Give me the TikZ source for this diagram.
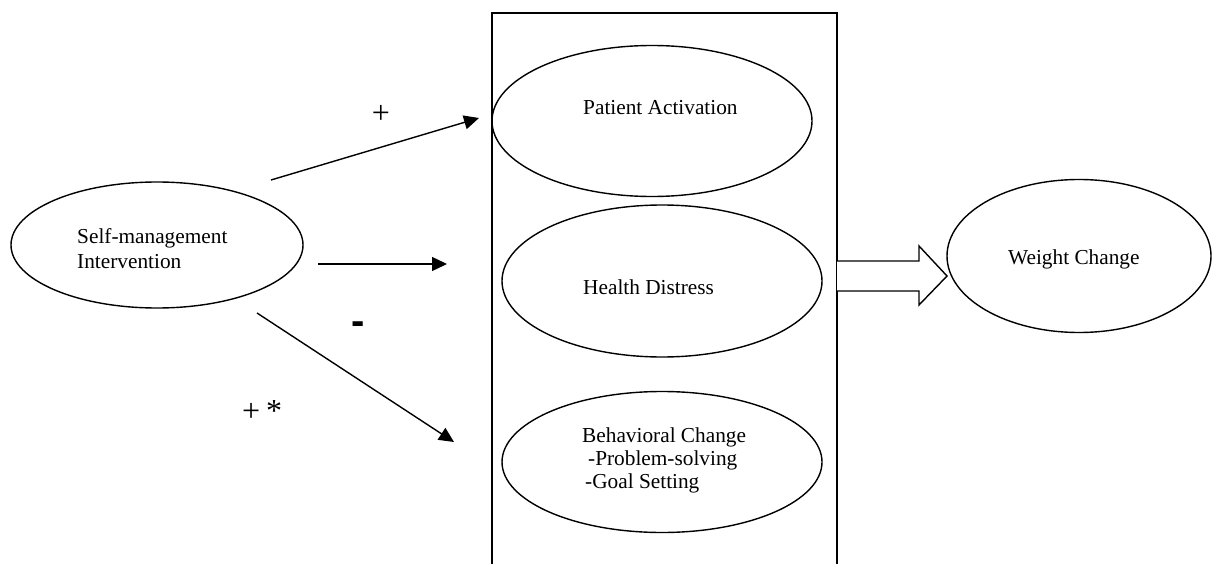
\documentclass[tikz,border=0pt]{standalone}
\usepackage{fontspec}
\setmainfont{Liberation Serif}
\newfontfamily\dashfont{Liberation Sans}
\usetikzlibrary{shapes.geometric,arrows.meta}
\begin{document}
\begin{tikzpicture}[x=1pt,y=-1pt,
  construct/.style={draw,ellipse,line width=1.4pt,inner sep=0pt},
  lbl/.style={anchor=base west,inner sep=0pt,font=\fontsize{21.3}{25}\selectfont},
  sign/.style={anchor=base,inner sep=0pt,font=\fontsize{32}{34}\selectfont},
  path/.style={line width=1.4pt,-{Triangle[length=15pt,width=14pt]}},
  frame/.style={line width=1.8pt}]
\useasboundingbox (0,0) rectangle (1214,564);

% mediator frame (runs off the bottom edge)
\draw[frame] (492,570) -- (492,13) -- (837,13) -- (837,570);

% constructs
\node[construct,minimum width=292pt,minimum height=126pt] (sm) at (157,245) {};
\node[construct,minimum width=320pt,minimum height=151pt] (pa) at (652,121) {};
\node[construct,minimum width=320pt,minimum height=152pt] (hd) at (662,281) {};
\node[construct,minimum width=320pt,minimum height=141pt] (bc) at (662,462) {};
\node[construct,minimum width=264pt,minimum height=153pt] (wc) at (1079,256) {};

% construct labels
\node[lbl] (smA) at (77,243) {Self-management};
\node[lbl] (smB) at (77,268) {Intervention};
\node[lbl] (paT) at (583,115) {Patient Activation};
\node[lbl] (hdT) at (583,294) {Health Distress};
\node[lbl] (bcA) at (582,442) {Behavioral Change};
\node[lbl] (bcB) at (588,465) {-Problem-solving};
\node[lbl] (bcC) at (585,488) {-Goal Setting};
\node[lbl] (wcT) at (1008,264) {Weight Change};

% path end points
\coordinate (s1) at (271,180);
\coordinate (t1) at (479,118);
\coordinate (s2) at (318,264);
\coordinate (t2) at (447,264);
\coordinate (s3) at (257,313);
\coordinate (t3) at (454,442);

\draw[path] (s1) -- (t1);
\draw[path] (s2) -- (t2);
\draw[path] (s3) -- (t3);

% effect signs
\node[sign] (p1) at (381,124) {+};
\node[anchor=base,inner sep=0pt,font=\dashfont\bfseries\fontsize{40}{40}\selectfont] (m1) at (358,334) {-};
\node[sign,anchor=base west] (p2) at (242,421) {+\hspace{6pt}*};

% block arrow into the outcome
\draw[line width=1.4pt,fill=white]
  (837,261) -- (919,261) -- (919,246) -- (947,276) -- (919,305) -- (919,291) -- (837,291);
\end{tikzpicture}
\end{document}
